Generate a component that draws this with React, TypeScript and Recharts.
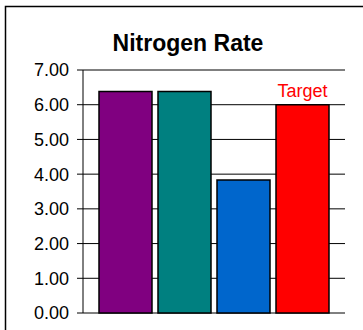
import React from 'react';
import { BarChart, Bar, Cell, XAxis, YAxis, CartesianGrid, LabelList } from 'recharts';

// Data
const categories = ['Plot 1', 'Plot 2', 'Plot 3', 'Target'];
const rates = [6.38, 6.38, 3.83, 6.0];
const barLabels = ['', '', '', 'Target'];
const yTicks = [0, 1, 2, 3, 4, 5, 6, 7];

const COLORS = ['#800080', '#008080', '#0066CC', '#FF0000'];
const FONT = '"Liberation Sans", Arial, sans-serif';

const data = categories.map((name, i) => ({ name, rate: rates[i], label: barLabels[i] }));

const App: React.FC = () => {
  return (
    <div style={{ position: 'absolute', left: 0, top: 0, width: 363, height: 330, overflow: 'hidden', background: '#fff' }}>
      {/* chart frame + title */}
      <svg width={363} height={330} style={{ position: 'absolute', left: 0, top: 0 }}>
        <rect x={5.5} y={6.5} width={400} height={400} fill="none" stroke="#000" strokeWidth={1.5} />
        <text x={188} y={51} textAnchor="middle" fontFamily={FONT} fontSize={23} fontWeight="bold" fill="#000">
          Nitrogen Rate
        </text>
      </svg>

      <div style={{ position: 'absolute', left: 0, top: 0 }}>
        <BarChart
          width={363}
          height={330}
          data={data}
          margin={{ top: 70, right: 18, bottom: 17, left: 0 }}
          barCategoryGap={3}
        >
          <CartesianGrid vertical={false} stroke="#000" strokeWidth={1} />
          <XAxis dataKey="name" padding={{ left: 13, right: 13 }} height={0} tick={false} tickLine={false} axisLine={{ stroke: '#808080', strokeWidth: 1.5 }} />
          <XAxis xAxisId="top" dataKey="name" orientation="top" height={0} tick={false} tickLine={false} axisLine={{ stroke: '#808080', strokeWidth: 1.5 }} />
          <YAxis
            width={83}
            domain={[0, 7]}
            ticks={yTicks}
            interval={0}
            tickFormatter={(v: number) => v.toFixed(2)}
            tick={{ fill: '#000', fontSize: 18, fontFamily: FONT }}
            tickSize={6}
            tickMargin={8}
            tickLine={{ stroke: '#000' }}
            axisLine={{ stroke: '#000' }}
          />
          <YAxis yAxisId="right" orientation="right" width={0} domain={[0, 7]} tick={false} tickLine={false} axisLine={{ stroke: '#808080', strokeWidth: 1.5 }} />
          <Bar dataKey="rate" stroke="#000" strokeWidth={1.5} isAnimationActive={false}>
            {data.map((d, i) => (
              <Cell key={d.name} fill={COLORS[i]} />
            ))}
            <LabelList dataKey="label" position="top" offset={8} fill="#FF0000" fontSize={18} fontFamily={FONT} />
          </Bar>
        </BarChart>
      </div>
    </div>
  );
};

export default App;
